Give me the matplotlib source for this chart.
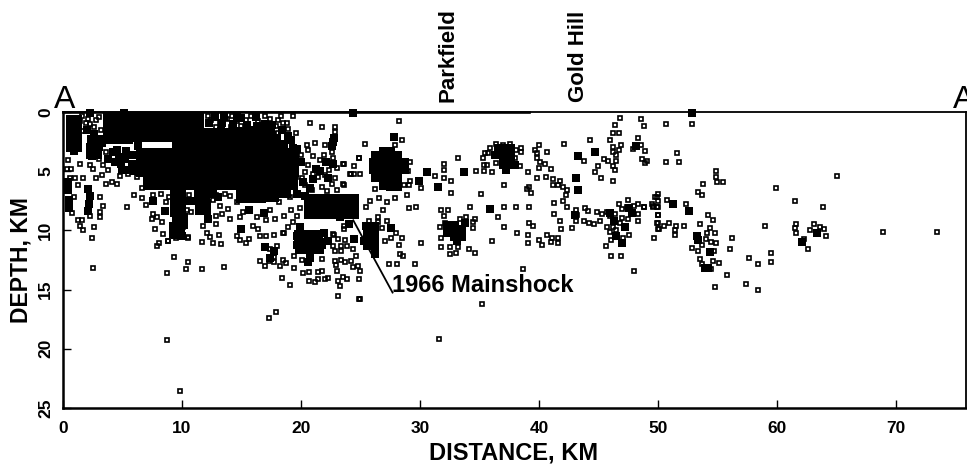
import numpy as np
import matplotlib
matplotlib.use("Agg")
import matplotlib.pyplot as plt

plt.rcParams['font.family'] = ['Liberation Sans', 'DejaVu Sans']

# (distance km, depth km)
west_events = [
 (2.1,0.6),(1.9,0.9),(2.3,1.0),(2.6,1.25),(1.4,0.8),(3.6,3.4),(3.0,4.0),(1.45,4.35),(0.45,4.05),(0.7,4.8),
 (0.3,4.8),(2.25,4.5),(2.55,4.85),(3.4,4.5),(3.8,4.9),(3.25,5.3),(2.8,5.6),(4.8,5.4),(4.1,5.9),(3.6,6.1),
 (4.5,6.05),(5.5,5.2),(6.2,5.5),(1.0,5.6),(1.7,5.6),(0.6,5.6),(1.3,6.2),(0.9,7.2),(3.1,7.2),(3.35,7.9),
 (3.1,8.45),(3.1,8.9),(0.75,8.5),(2.3,8.75),(1.3,9.15),(1.6,9.1),(1.4,9.6),(1.7,10.0),(2.6,9.75),(5.35,8.0),
 (5.95,7.05),(6.6,7.25),(7.0,7.85),(6.6,6.45),(8.65,7.6),(7.6,8.6),(7.45,9.0),(7.9,8.9),(8.3,9.3),(7.7,9.85),
 (8.4,10.3),(8.8,10.9),(10.05,7.3),(10.4,8.3),(10.8,8.45),(10.1,9.7),(10.5,10.55),(11.8,9.65),(12.1,10.2),(12.9,9.5),
 (13.35,8.6),(14.0,9.0),(14.9,8.9),(15.15,8.45),(16.0,9.65),(16.3,8.9),(16.4,9.85),(17.1,9.15),(17.8,9.0),(18.6,8.8),
 (18.95,9.7),(18.5,10.2),(19.3,9.3),(19.7,8.8),(19.2,8.3),(18.15,7.6),(17.4,8.3),(19.1,7.2),(12.6,7.4),(13.2,7.9),
 (14.0,7.1),(13.6,6.9),(12.9,8.8),(13.9,8.2),(8.2,6.9),(7.6,7.0),(8.9,7.2),(10.6,7.0),(12.9,7.0),(14.6,7.6),
]
north_upper_events = [
 (20.75,0.9),(21.8,1.3),(22.9,1.3),(22.9,1.65),(18.1,0.7),(18.5,0.9),(18.85,0.95),(19.35,0.35),(18.9,1.4),(19.6,1.8),
 (18.1,1.8),(20.5,2.8),(20.6,3.2),(21.2,2.65),(22.0,2.8),(22.6,3.35),(22.7,3.9),(23.55,4.35),(24.5,4.6),(24.85,3.9),
 (24.2,5.2),(24.5,5.25),(19.6,5.5),(20.05,5.6),(21.45,5.5),(22.9,5.6),(23.55,6.1),(22.6,6.05),(23.0,4.7),(21.6,4.05),
 (20.6,4.5),(22.4,4.9),(19.9,8.15),(20.5,7.9),(23.6,9.6),(23.6,9.9),(22.7,10.3),(20.3,6.2),(20.9,6.6),(21.8,6.3),
 (22.2,6.7),(23.0,6.6),(20.0,3.6),(21.0,3.7),(21.9,3.6),(22.4,4.3),(20.3,5.1),(21.0,5.2),(22.0,5.3),(12.4,0.7),
 (13.2,0.9),(13.8,0.6),(14.6,0.8),(15.4,0.7),(16.4,0.8),(17.4,0.6),(12.9,1.3),(14.1,1.3),(15.0,1.2),(17.9,1.2),
 (12.2,0.3),(14.2,0.3),(15.8,0.3),(17.0,0.3),(18.3,0.3),(3.0,0.4),(1.6,0.3),(2.8,0.7),(3.2,1.5),(1.7,1.6),
]
south_events = [
 (7.9,11.3),(8.1,11.1),(8.85,10.9),(9.5,10.65),(10.5,10.6),(9.3,12.25),(10.5,12.7),(10.35,13.3),(8.7,13.6),(11.7,13.25),
 (13.5,13.1),(2.45,10.65),(2.55,13.2),(11.65,11.0),(12.6,11.1),(13.3,11.15),(13.15,10.4),(12.35,10.55),(14.6,10.5),(14.9,10.8),
 (15.6,10.7),(15.4,11.1),(16.55,10.5),(17.1,10.5),(17.7,10.4),(18.55,10.2),(16.55,12.6),(17.0,13.0),(17.35,12.6),(17.75,12.25),
 (17.7,12.7),(18.25,13.0),(18.5,12.5),(18.75,12.75),(19.4,12.2),(19.4,13.15),(20.05,12.5),(18.4,14.0),(19.05,14.6),(20.15,13.6),
 (20.65,13.5),(20.65,14.3),(21.2,14.4),(21.45,14.1),(21.45,13.5),(21.8,13.45),(22.0,14.1),(22.3,14.0),(23.0,13.45),(23.1,14.3),
 (23.3,14.7),(23.55,13.95),(23.9,14.1),(23.1,15.5),(24.9,15.8),(24.9,14.1),(22.75,10.4),(23.1,10.7),(23.7,10.85),(22.7,11.3),
 (23.35,11.3),(23.85,11.3),(24.4,11.6),(22.85,11.7),(23.4,11.7),(21.75,12.4),(22.85,12.6),(23.4,12.5),(23.7,12.7),(24.2,12.6),
 (24.4,13.05),(24.8,13.0),(22.95,12.9),(17.9,16.9),(17.35,17.4),(8.7,19.25),(9.85,23.55),(31.6,19.2),(16.9,11.4),(17.4,11.6),
 (17.7,11.9),(18.0,11.3),(24.6,12.2),(25.0,13.4),
]
central_events = [
 (28.2,0.8),(28.5,2.4),(27.9,2.8),(25.4,2.7),(23.6,4.4),(24.9,3.9),(24.1,5.2),(25.0,5.2),(23.6,6.2),(29.2,4.2),
 (29.0,5.0),(29.2,5.8),(29.1,6.2),(28.7,6.2),(28.9,7.0),(27.9,7.3),(26.2,6.5),(25.8,7.5),(26.6,7.3),(27.2,7.6),
 (25.5,8.0),(26.9,8.3),(33.2,3.9),(32.0,4.4),(32.0,4.9),(31.3,5.4),(30.1,6.4),(32.0,5.6),(32.6,5.8),(32.6,6.8),
 (34.7,5.0),(35.4,5.0),(36.1,5.1),(35.1,6.9),(37.1,6.2),(37.1,8.0),(38.1,8.0),(39.2,8.0),(36.6,8.9),(37.1,9.7),
 (38.2,10.2),(36.1,10.9),(29.1,8.1),(29.7,8.0),(30.1,11.1),(29.6,12.8),(28.1,12.8),(27.4,12.8),(28.6,12.2),(28.3,12.0),
 (28.5,10.6),(28.2,11.2),(28.0,10.2),(27.2,9.2),(26.8,9.8),(27.1,10.9),(27.6,10.6),(26.5,8.9),(26.5,9.3),(25.7,9.2),
 (34.2,8.0),(31.8,8.25),(32.4,8.25),(32.0,8.8),(31.7,9.7),(32.1,9.4),(33.9,8.9),(34.6,9.0),(33.4,9.0),(34.5,9.8),
 (34.5,9.3),(31.8,10.6),(31.8,11.4),(32.5,12.0),(33.0,11.9),(33.2,11.4),(32.5,11.4),(34.1,11.6),(34.6,11.9),(38.7,13.25),
 (48.0,13.4),(35.2,16.2),(25.0,15.8),(46.1,12.2),(46.9,12.2),(45.6,11.3),(46.05,10.85),(47.6,10.35),(47.1,10.6),
]
gold_hill_events = [
 (36.4,2.7),(37.6,2.7),(35.9,3.0),(38.5,3.0),(35.5,3.5),(35.75,3.5),(38.5,3.4),(35.3,3.9),(35.4,4.5),(35.6,4.5),
 (36.4,4.3),(38.0,3.9),(38.4,4.6),(37.0,2.8),(38.1,3.2),(40.0,2.8),(39.7,3.2),(40.7,3.4),(39.8,3.5),(39.8,3.9),
 (40.1,4.2),(40.5,4.4),(40.0,4.7),(41.0,4.8),(39.1,5.1),(39.8,5.6),(40.6,5.5),(41.2,5.7),(41.8,5.8),(41.2,6.2),
 (41.6,6.2),(42.0,6.3),(42.4,6.6),(42.3,7.0),(42.0,7.5),(41.3,7.7),(42.4,8.0),(41.3,8.65),(41.8,9.2),(41.85,9.9),
 (42.8,9.8),(39.2,6.3),(39.0,6.5),(39.3,6.8),(39.2,9.4),(39.5,9.6),(39.1,10.35),(39.1,11.1),(40.0,10.85),(40.3,11.2),
 (40.7,10.4),(41.1,10.6),(41.0,11.0),(41.6,10.6),(41.6,11.1),(42.1,2.7),(44.3,2.35),(46.8,0.5),(46.4,1.1),(48.6,0.6),
 (48.8,1.2),(46.75,1.75),(46.25,1.8),(46.0,2.4),(46.9,2.8),(46.25,2.95),(46.25,3.4),(46.7,3.2),(46.5,3.65),(46.5,4.1),
 (46.25,4.6),(46.4,4.9),(43.8,4.1),(45.5,4.0),(45.8,4.1),(45.0,4.6),(44.7,5.1),(45.2,5.6),(46.25,5.8),(48.35,2.2),
 (47.9,3.1),(48.6,2.8),(48.9,3.3),(48.7,4.0),(49.05,4.1),(48.9,4.3),
]
east_band_events = [
 (43.1,8.3),(43.2,8.7),(43.1,9.2),(43.8,9.2),(43.9,8.1),(44.15,8.4),(44.2,9.4),(44.6,9.5),(44.85,8.45),(45.3,8.6),
 (45.7,8.45),(45.1,9.2),(46.0,8.75),(46.7,7.75),(47.5,7.4),(48.0,7.9),(48.35,7.75),(48.8,8.0),(47.0,8.95),(47.5,9.0),
 (48.35,9.2),(48.35,8.6),(46.8,9.4),(46.25,9.7),(45.7,9.7),(46.0,10.1),(46.5,10.0),(49.65,10.6),(49.6,7.9),(49.9,7.2),
 (50.0,8.0),(50.0,8.7),(49.9,9.4),(50.0,9.9),(46.4,8.6),(47.0,8.2),(47.4,8.0),(45.9,8.5),
]
far_east_events = [
 (50.7,1.0),(52.85,1.0),(51.6,3.5),(50.7,4.2),(51.8,4.2),(54.9,5.0),(54.9,5.5),(55.0,5.9),(55.5,5.9),(53.8,6.1),
 (53.4,6.75),(53.7,7.0),(59.9,6.4),(65.05,5.4),(61.5,7.5),(63.85,8.0),(50.0,6.9),(49.8,7.2),(50.0,7.5),(50.8,7.4),
 (49.5,7.8),(49.95,8.0),(49.6,8.0),(48.85,8.0),(52.4,7.8),(50.0,8.7),(50.0,9.4),(50.9,9.35),(50.5,9.65),(50.1,9.9),
 (51.5,9.65),(51.4,10.0),(51.4,10.35),(52.2,9.65),(54.2,8.7),(54.6,9.15),(53.5,9.45),(54.4,9.8),(54.1,10.2),(54.8,10.25),
 (54.05,10.7),(53.75,11.2),(54.5,11.0),(54.85,11.1),(52.9,11.5),(53.4,11.7),(54.4,11.8),(54.7,11.7),(53.5,12.4),(53.7,12.8),
 (54.6,12.55),(55.1,12.75),(54.5,13.25),(55.8,13.8),(54.8,14.8),(56.2,10.6),(56.1,11.6),(59.0,9.6),(57.7,12.3),(58.45,12.85),
 (59.5,11.9),(59.55,12.7),(57.4,14.5),(58.4,15.0),(61.6,9.5),(61.5,9.8),(61.65,10.2),(63.15,9.45),(62.8,10.0),(63.6,9.7),
 (63.95,9.9),(64.1,10.5),(62.3,10.75),(62.6,11.6),(68.9,10.1),(73.45,10.15),
]
# small tight knots of events
knot_events = [
 (27.8,2.1),(30.6,5.1),(29.9,5.8),(31.5,6.3),(33.7,5.1),(35.9,8.2),(27.6,9.8),(47.0,11.1),(44.7,3.4),(43.3,3.7),
 (43.1,5.6),(43.3,6.6),(48.2,2.9),(51.3,7.8),(52.6,8.4),(53.3,10.5),(53.4,10.8),(54.0,13.2),(54.25,13.2),(54.4,11.8),
 (63.4,10.2),(62.1,10.95),(24.5,10.7),(15.0,9.85),(22.7,2.5),(21.3,4.8),(37.2,4.9),(46.5,10.5),(0.4,5.9),(0.4,6.6),
 (0.5,7.4),(0.5,8.1),(2.1,6.5),(2.3,7.1),(2.2,7.8),(2.1,8.4),(2.6,1.9),(2.5,2.6),(2.7,3.2),(2.4,3.7),
 (17.0,11.4),(17.7,11.7),(17.4,12.3),(0.7,3.0),(0.9,3.3),(20.8,12.3),(20.6,12.7),(10.0,10.5),(9.4,10.4),(12.2,9.0),
 (13.5,0.4),(15.0,0.5),(16.2,0.4),(17.0,1.0),(18.0,2.2),(19.2,2.4),(19.3,3.0),(16.9,1.6),(13.3,1.6),(15.7,1.5),
 (5.1,0.05),(2.3,0.05),(24.4,0.05),(52.9,0.05),(46.0,8.5),(47.8,8.5),(47.6,8.1),(43.0,8.7),(33.1,10.9),(33.8,9.4),
 (24.0,9.5),(25.3,10.9),(22.3,10.9),(23.3,8.9),(19.7,6.9),(20.3,7.1),
 (4.5,3.2),(5.3,3.3),(5.8,3.6),(5.2,4.0),(5.8,4.4),(4.7,3.8),(5.6,4.9),(4.2,3.4),(6.0,5.0),(20.2,5.9),
 (21.0,5.7),(21.6,5.0),(22.1,4.2),(22.7,4.4),(22.3,5.6),(20.8,6.4),(22.6,2.9),(22.8,2.2),(19.9,9.7),(19.7,10.5),
 (21.9,10.2),(21.8,11.2),(19.7,11.2),(16.9,8.5),(15.6,8.3),(13.0,7.2),(10.7,7.5),(8.6,8.4),(7.6,7.5),(12.6,6.9),
 (36.6,3.0),(36.3,3.6),(38.0,4.5),(25.5,9.6),(26.2,12.0),(46.3,9.2),(47.2,9.7),(13.4,0.9),(14.7,1.6),
 (12.3,0.9),(14.3,1.0),(15.5,1.1),(16.3,1.2),(17.6,1.1),(12.8,0.4),(14.6,0.3),(17.5,1.6),(18.4,1.5),(4.9,4.4),
 (4.4,4.2),(5.0,4.9),(3.8,4.0),(2.0,1.5),(3.3,2.6),(6.3,2.9),(18.9,2.0),(19.7,3.1),(20.0,4.2),
]
# areas so dense that the events merge to solid black
merged_events = [
 (0.9,0.9),(0.9,1.9),(0.9,2.7),(4.0,1.0),(5.2,1.0),(6.4,1.0),(7.6,1.0),(8.8,1.0),(10.0,1.0),(11.2,1.0),
 (4.0,0.6),(5.2,0.6),(6.4,0.6),(7.6,0.6),(8.8,0.6),(10.0,0.6),(11.2,0.6),(4.0,2.0),
 (5.2,2.0),(6.4,1.9),(7.6,1.9),(8.8,1.9),(10.0,2.0),(11.2,2.0),(12.4,2.0),(13.6,2.0),(14.8,2.0),(16.0,2.0),
 (17.2,2.3),(9.8,2.9),(11.0,2.9),(12.2,2.9),(13.4,2.9),(14.6,2.9),(15.8,2.9),(17.0,2.9),(18.2,3.0),(6.8,3.7),
 (8.0,3.7),(9.2,3.7),(10.4,3.7),(11.6,3.7),(12.8,3.7),(14.0,3.7),(15.2,3.7),(16.4,3.7),(17.6,3.7),(18.8,3.7),
 (6.8,4.8),(8.0,4.8),(9.2,4.8),(10.4,4.8),(11.6,4.8),(12.8,4.8),(14.0,4.8),(15.2,4.8),(16.4,4.8),(17.6,4.8),
 (18.8,4.8),(7.4,5.9),(8.6,5.9),(9.8,5.9),(11.0,5.9),(12.2,5.9),(13.4,5.9),(14.6,5.9),(15.8,5.9),(17.0,5.9),
 (18.2,5.9),(19.2,3.8),(19.2,4.8),(19.1,5.9),(15.2,7.0),(16.4,7.0),(17.5,6.9),(18.5,6.6),(9.7,7.2),(9.7,8.2),
 (9.8,9.2),(9.6,10.0),(11.7,7.2),(11.8,8.0),
 (20.9,7.6),(22.1,7.6),(23.3,7.6),(24.2,7.6),(20.9,8.4),(22.1,8.4),(23.3,8.4),(24.2,8.4),(20.1,10.6),(21.2,10.6),
 (20.2,11.3),(21.3,11.3),(26.6,4.0),(27.8,4.0),(26.6,5.2),(27.8,5.2),(27.8,6.0),(28.4,4.6),(26.4,4.6),(27.2,3.6),
 (27.2,5.9),(25.9,10.0),(25.9,11.0),(32.6,9.9),(33.2,10.2),(37.3,3.4),(37.3,4.1),(2.7,2.6),(2.6,3.3),
]

all_open = (west_events + north_upper_events + south_events + central_events
            + gold_hill_events + east_band_events + far_east_events)
open_x = [p[0] for p in all_open]
open_y = [p[1] for p in all_open]
knot_x = [p[0] for p in knot_events]
knot_y = [p[1] for p in knot_events]
merged_x = [p[0] for p in merged_events]
merged_y = [p[1] for p in merged_events]

x_ticks = [0, 10, 20, 30, 40, 50, 60, 70]
y_ticks = [0, 5, 10, 15, 20, 25]

W, H = 967, 465
fig = plt.figure(figsize=(W/100, H/100), dpi=100)
ax = fig.add_axes([63/W, 1-408/H, (966-63)/W, (408-112)/H])
ax.set_xlim(0, 75.9)
ax.set_ylim(25, 0)

ax.plot(merged_x, merged_y, ls='none', marker='s', ms=11.5, mfc='k', mec='k', mew=0, zorder=2)
ax.plot(knot_x, knot_y, ls='none', marker='s', ms=6, mfc='k', mec='k', mew=0, clip_on=False, zorder=2)
ax.plot(open_x, open_y, ls='none', marker='s', ms=3.2, mfc='none', mec='k', mew=1.2, clip_on=False, zorder=3)

for s in ax.spines.values():
    s.set_linewidth(1.3)
ax.spines['left'].set_linewidth(1.8)
ax.spines['bottom'].set_linewidth(1.8)
ax.set_xticks(x_ticks)
ax.set_yticks(y_ticks)
ax.tick_params(axis='both', direction='in', length=5.5, width=1.0)
ax.tick_params(axis='x', labelsize=12.5, pad=9)
ax.tick_params(axis='y', labelsize=12.5, pad=7)
for t in ax.get_xticklabels():
    t.set_fontweight('bold')
for t in ax.get_yticklabels():
    t.set_fontweight('bold')
    t.set_rotation(90)
    t.set_va('center')

# heavier part of the top edge, as in the reference
ax.plot([0, 39.2], [0, 0], color='k', lw=1.9, clip_on=False, zorder=2)

# label line from the mainshock
ax.plot([24.4, 27.7], [9.15, 15.25], color='k', lw=1.3, zorder=4)
ax.text(27.65, 14.66, '1966 Mainshock', fontsize=17, fontweight='bold', va='center', ha='left')

trans = ax.get_xaxis_transform()
ax.text(32.4, 1.034, 'Parkfield', transform=trans, rotation=90, fontsize=16, fontweight='bold', ha='center', va='bottom')
ax.text(43.3, 1.034, 'Gold Hill', transform=trans, rotation=90, fontsize=16, fontweight='bold', ha='center', va='bottom')
ax.text(0.1, 1.0135, 'A', transform=trans, fontsize=23, ha='center', va='baseline')
ax.text(74.8, 1.0135, 'A', transform=trans, fontsize=23, ha='left', va='baseline', clip_on=False)

fig.text(514/W, 1-452.5/H, 'DISTANCE, KM', fontsize=17, fontweight='bold', ha='center', va='center')
fig.text(21/W, 1-260/H, 'DEPTH, KM', fontsize=16.5, fontweight='bold', rotation=90, ha='center', va='center')

fig.savefig('out.png', dpi=100)
